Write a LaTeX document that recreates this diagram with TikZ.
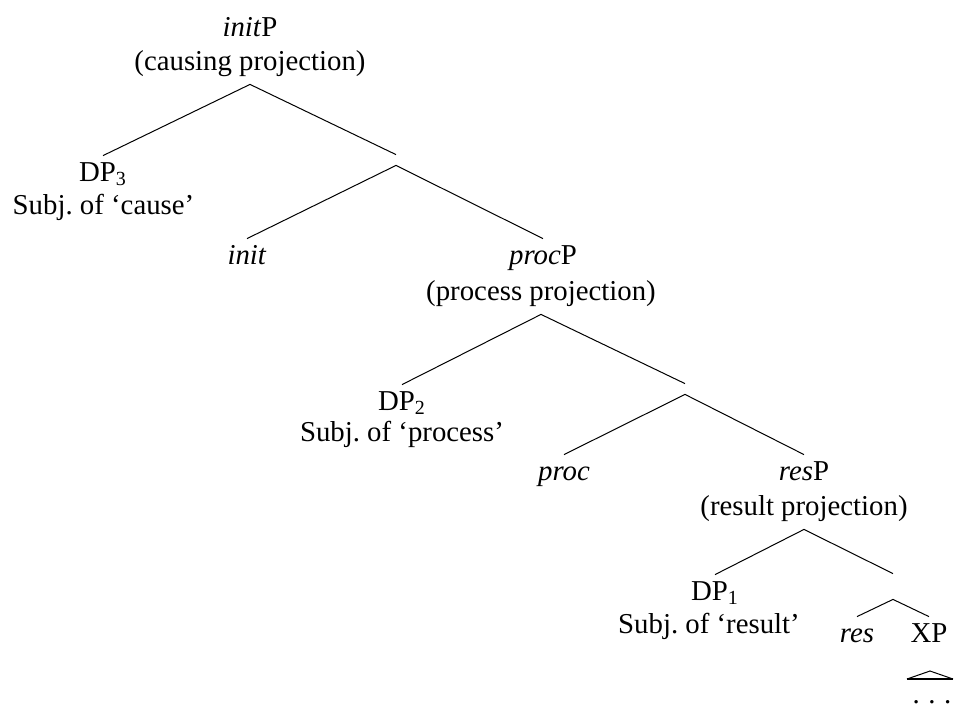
\documentclass[tikz,border=0pt]{standalone}
\usepackage{fontspec}
\setmainfont{Liberation Serif}
\begin{document}
\begin{tikzpicture}[
    x=0.5pt, y=-0.5pt,
    font=\fontsize{14.4pt}{17pt}\selectfont\frenchspacing,
    lab/.style={inner sep=0pt, text height=12.5pt, text depth=7pt, anchor=base},
    bar/.style={inner sep=0pt, minimum width=0pt, minimum height=#1},
    branch/.style={line width=0.5pt},
  ]
  \useasboundingbox (0,0) rectangle (954,708);

  % initP and its daughters
  \node[lab] (initP)  at (250,36)  {\textit{init}P};
  \node[lab] (initPg) at (250,70)  {(causing projection)};
  \node[lab] (DP3)    at (103,181) {DP\textsubscript{3}};
  \node[lab] (DP3g)   at (103.5,214) {Subj.\ of ‘cause’};
  \node[bar=5pt] (bar1) at (396,160) {};
  \node[lab] (init)   at (247,264) {\textit{init}};

  % procP and its daughters
  \node[lab] (procP)  at (543,264) {\textit{proc}P};
  \node[lab] (procPg) at (541,300) {(process projection)};
  \node[lab] (DP2)    at (402,410) {DP\textsubscript{2}};
  \node[lab] (DP2g)   at (402,441) {Subj.\ of ‘process’};
  \node[bar=5pt] (bar2) at (685,389) {};
  \node[lab] (proc)   at (564,480) {\textit{proc}};

  % resP and its daughters
  \node[lab] (resP)   at (804,480) {\textit{res}P};
  \node[lab] (resPg)  at (804,515) {(result projection)};
  \node[lab] (DP1)    at (715,600) {DP\textsubscript{1}};
  \node[lab] (DP1g)   at (709,633) {Subj.\ of ‘result’};
  \node[bar=12.5pt] (bar3) at (893,586.5) {};
  \node[lab] (res)    at (857,642) {\textit{res}};
  \node[lab] (XP)     at (929,642) {XP};

  % branches
  \draw[branch] (initPg.south) -- (DP3.north);
  \draw[branch] (initPg.south) -- (bar1.north);
  \draw[branch] (bar1.south) -- (init.north);
  \draw[branch] (bar1.south) -- (procP.north);
  \draw[branch] (procPg.south) -- (DP2.north);
  \draw[branch] (procPg.south) -- (bar2.north);
  \draw[branch] (bar2.south) -- (proc.north);
  \draw[branch] (bar2.south) -- (resP.north);
  \draw[branch] (resPg.south) -- (DP1.north);
  \draw[branch] (resPg.south) -- (bar3.north);
  \draw[branch] (bar3.south) -- (res.north);
  \draw[branch] (bar3.south) -- (XP.north);

  % roof under XP
  \coordinate (roof) at (930,671);
  \coordinate (roofL) at (907,679);
  \coordinate (roofR) at (953,679);
  \draw[branch] (roofL) -- (roof) -- (roofR);
  \draw[line width=1.1pt] (roofL) -- (roofR);
  \node[inner sep=0pt, anchor=base] (dots) at (932,703) {.\hspace{0.3em}.\hspace{0.3em}.};
\end{tikzpicture}
\end{document}
